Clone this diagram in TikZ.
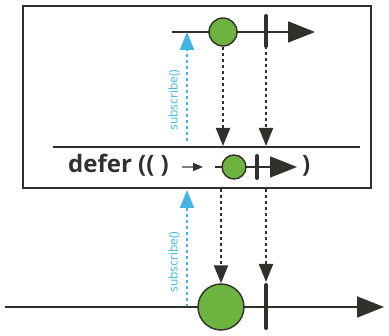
\documentclass[tikz,border=0pt]{standalone}
\usepackage{fontspec}
\setmainfont{Open Sans}
\usetikzlibrary{arrows.meta}
\definecolor{ink}{HTML}{32302B}
\definecolor{leaf}{HTML}{6DB33F}
\definecolor{sky}{HTML}{41B6E6}
\begin{document}
\begin{tikzpicture}[x=1pt,y=-1pt,
  timeline/.style={draw=ink,line width=1.8pt,-{Triangle[length=27pt,width=21pt]}},
  marble/.style={circle,draw=ink,line width=1.4pt,fill=leaf,inner sep=0pt},
  endbar/.style={draw=ink,line width=4pt,line cap=round},
  emitline/.style={draw=ink,line width=2pt,dash pattern=on 3pt off 3pt,-{Triangle[length=18pt,width=14pt]}},
  subline/.style={draw=sky,line width=2pt,dash pattern=on 3pt off 3pt,-{Triangle[length=18pt,width=14pt]}},
  sublabel/.style={text=sky,font=\fontsize{12}{12}\selectfont,rotate=90,inner sep=0pt},
]
\useasboundingbox (0,0) rectangle (389,336);
% frame
\draw[ink,line width=2pt] (23,6) rectangle (371,188);
% top timeline
\coordinate (t0) at (172,32);
\coordinate (t1) at (315,32);
\draw[timeline] (t0) -- (t1);
\node[marble,minimum size=28pt] (c1) at (223,32) {};
\coordinate (b1a) at (266,16);
\coordinate (b1b) at (266,46);
\draw[endbar] (b1a) -- (b1b);
% mid line
\coordinate (m0) at (53,147);
\coordinate (m1) at (360,147);
\draw[ink,line width=1.6pt] (m0) -- (m1);
% emissions to defer
\coordinate (e1) at (223,146);
\coordinate (e2) at (266,146);
\draw[emitline] (c1.south) -- (e1);
\draw[emitline] (b1b) -- (e2);
% top subscribe
\coordinate (s1a) at (187,141);
\coordinate (s1b) at (187,32);
\draw[subline] (s1a) -- (s1b);
\node[sublabel] (l1) at (174,100) {subscribe()};
% defer text
\node[anchor=base west,inner sep=0pt,text=ink,font=\bfseries\fontsize{24}{24}\selectfont] (dt) at (68,173) {defer (( )};
\coordinate (a0) at (182,167);
\coordinate (a1) at (203,167);
\draw[gray,line width=1.5pt,-{Triangle[length=10pt,width=8pt,fill=ink,color=ink]}] (a0) -- (a1);
\coordinate (n0) at (215,167);
\coordinate (n1) at (297,167);
\draw[timeline] (n0) -- (n1);
\node[marble,minimum size=24pt] (c2) at (234,167) {};
\coordinate (b2a) at (257,156);
\coordinate (b2b) at (257,178);
\draw[endbar] (b2a) -- (b2b);
\node[anchor=base west,inner sep=0pt,text=ink,font=\bfseries\fontsize{24}{24}\selectfont] (cp) at (302,173) {)};
% lower subscribe
\coordinate (s2a) at (187,307);
\coordinate (s2b) at (187,190);
\draw[subline] (s2a) -- (s2b);
\node[sublabel] (l2) at (174,262) {subscribe()};
% bottom timeline
\coordinate (u0) at (5,307);
\coordinate (u1) at (384,307);
\draw[timeline] (u0) -- (u1);
\node[marble,minimum size=46pt] (c3) at (221,307) {};
\coordinate (b3a) at (266,285);
\coordinate (b3b) at (266,328);
\draw[endbar] (b3a) -- (b3b);
% emissions to output
\coordinate (f1) at (221,189);
\coordinate (f2) at (266,189);
\coordinate (f3) at (266,282);
\draw[emitline] (f1) -- (c3.north);
\draw[emitline] (f2) -- (f3);
\end{tikzpicture}
\end{document}
